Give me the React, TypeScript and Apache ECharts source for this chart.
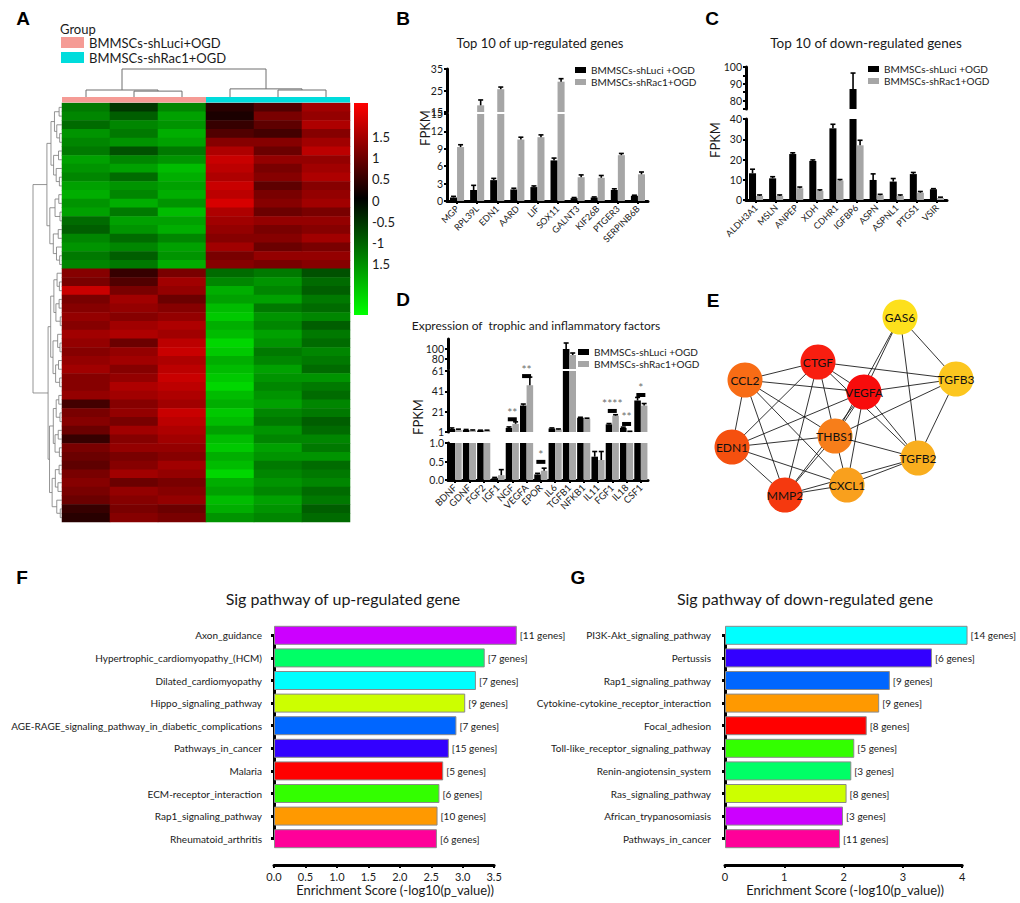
import React, { useEffect, useRef } from 'react';
import * as echarts from 'echarts';

const FONT = 'Lato, "Noto Sans", sans-serif';
const INK = '#1a1a1a';

// ---------------- Panel A: heatmap ----------------
const sampleNames = ['shLuci-1', 'shLuci-2', 'shLuci-3', 'shRac1-1', 'shRac1-2', 'shRac1-3'];
const sampleGroup = [0, 0, 0, 1, 1, 1];
const groupLabels = ['BMMSCs-shLuci+OGD', 'BMMSCs-shRac1+OGD'];
const groupColors = ['#f59b95', '#00dcdc'];

const zLuci1 = [-0.9, -1.0, -0.8, -1.1, -1.0, -0.9, -1.2, -1.1, -1.0, -1.2, -1.3, -1.1, -1.2, -0.8, -0.7, -1.0, -1.1, -0.9, -1.0,
  1.0, 0.9, 1.5, 0.9, 1.0, 1.1, 1.0, 1.2, 1.1, 1.0, 1.1, 1.2, 1.0, 1.0, 1.1, 0.5, 0.9, 1.0, 0.8, 0.4, 0.9, 0.8, 0.7, 0.9, 1.0, 0.9, 0.8, 0.4, 0.3];
const zLuci2 = [-0.4, -0.7, -1.0, -0.9, -1.1, -0.6, -1.0, -1.2, -0.8, -1.1, -1.0, -1.3, -0.9, -1.2, -1.1, -0.8, -1.0, -0.7, -0.9,
  0.4, 0.6, 0.9, 1.2, 1.1, 1.0, 1.2, 1.3, 0.8, 1.1, 1.2, 1.0, 1.1, 1.3, 1.2, 1.0, 1.1, 0.9, 1.2, 1.0, 1.1, 0.9, 1.0, 1.2, 0.8, 1.1, 1.0, 0.9, 1.0];
const zLuci3 = [-1.0, -1.2, -1.1, -1.3, -1.2, -0.9, -1.1, -1.4, -1.3, -1.2, -1.3, -1.1, -1.4, -1.2, -1.3, -1.0, -1.2, -1.1, -1.3,
  0.9, 1.2, 1.1, 0.8, 1.0, 1.1, 1.3, 1.2, 1.4, 1.5, 1.3, 1.4, 1.5, 1.4, 1.3, 1.2, 1.5, 1.4, 1.3, 1.2, 1.1, 1.0, 1.2, 1.1, 0.9, 1.0, 1.1, 0.8, 0.9];
const zRac1 = [0.3, 0.2, 0.4, 0.6, 1.0, 1.3, 1.5, 1.4, 1.3, 1.5, 1.4, 1.6, 1.3, 1.2, 1.1, 1.0, 1.2, 0.9, 1.0,
  -0.8, -1.0, -1.3, -1.2, -1.4, -1.5, -1.3, -1.4, -1.6, -1.5, -1.3, -1.4, -1.5, -1.6, -1.4, -1.3, -1.5, -1.4, -1.2, -1.4, -1.5, -1.3, -1.4, -1.6, -1.3, -1.2, -1.4, -1.3, -1.1];
const zRac2 = [0.6, 0.9, 0.7, 0.5, 1.0, 0.8, 1.1, 0.9, 1.0, 0.7, 0.9, 1.0, 0.8, 1.1, 0.9, 1.0, 0.8, 1.1, 0.9,
  -0.9, -1.1, -1.0, -1.2, -0.9, -1.1, -1.0, -1.2, -1.1, -0.9, -1.0, -1.2, -1.1, -1.0, -1.1, -1.2, -1.0, -0.9, -1.1, -1.0, -1.2, -1.1, -0.9, -1.0, -1.1, -1.0, -1.2, -1.1, -1.0];
const zRac3 = [1.2, 1.1, 1.3, 1.0, 1.2, 1.4, 1.1, 1.2, 1.3, 1.0, 1.1, 1.2, 0.9, 1.1, 1.0, 1.2, 0.9, 1.1, 1.0,
  -0.6, -0.8, -0.7, -0.9, -0.8, -1.0, -0.7, -0.9, -0.8, -1.0, -0.9, -0.8, -1.1, -0.9, -0.8, -1.0, -0.9, -0.7, -0.8, -1.0, -0.9, -1.1, -0.8, -0.9, -1.0, -0.8, -0.9, -0.7, -0.8];
const heatColumns = [zLuci1, zLuci2, zLuci3, zRac1, zRac2, zRac3];

// dendrogram merges: [lo, hi, split, height]
const colMerges = [[0, 6, 3, 10], [0, 3, 1, 2.5], [1, 3, 2, 2.1], [3, 6, 4, 2.9], [4, 6, 5, 2.5]];
const rowMerges = [
  [0, 48, 19, 10],
  [0, 19, 10, 5.2], [0, 10, 5, 3.8], [0, 5, 2, 2.6], [0, 2, 1, 1.0], [2, 5, 3, 1.8], [3, 5, 4, 0.8],
  [5, 10, 7, 2.9], [5, 7, 6, 1.2], [7, 10, 8, 2.0], [8, 10, 9, 0.9],
  [10, 19, 14, 4.2], [10, 14, 12, 2.4], [10, 12, 11, 1.1], [12, 14, 13, 0.7],
  [14, 19, 16, 3.0], [14, 16, 15, 1.3], [16, 19, 17, 1.9], [17, 19, 18, 0.8],
  [19, 48, 33, 4.8], [19, 33, 26, 3.9], [19, 26, 22, 2.8], [19, 22, 20, 1.7], [20, 22, 21, 0.9],
  [22, 26, 24, 2.1], [22, 24, 23, 1.0], [24, 26, 25, 0.6],
  [26, 33, 29, 3.1], [26, 29, 27, 1.5], [27, 29, 28, 0.7], [29, 33, 31, 2.2], [29, 31, 30, 1.2], [31, 33, 32, 0.8],
  [33, 48, 41, 4.3], [33, 41, 37, 3.0], [33, 37, 35, 2.0], [33, 35, 34, 1.1], [35, 37, 36, 0.7],
  [37, 41, 39, 2.4], [37, 39, 38, 1.3], [39, 41, 40, 0.9],
  [41, 48, 45, 3.4], [41, 45, 43, 2.3], [41, 43, 42, 1.0], [43, 45, 44, 1.4], [45, 48, 46, 1.8], [46, 48, 47, 0.6],
];
const colorbarTicks = [1.5, 1, 0.5, 0, -0.5, -1, -1.5];
const colorbarText = ['1.5', '1', '0.5', '0', '-0.5', '-1', '1.5'];

// ---------------- Panels B, C, D ----------------
const pairNames = ['BMMSCs-shLuci +OGD', 'BMMSCs-shRac1+OGD'];
const pairColors = ['#000000', '#a6a6a6'];

const upGenes = ['MGP', 'RPL39L', 'EDN1', 'AARD', 'LIF', 'SOX11', 'GALNT3', 'KIF26B', 'PTGER3', 'SERPINB6B'];
const upLuci = [0.6, 1.9, 3.6, 2.0, 2.4, 7.0, 0.5, 0.6, 1.9, 0.9];
const upRac1 = [9.3, 18.1, 25.6, 10.6, 11.0, 29.1, 4.1, 4.0, 7.9, 4.6];
const upLuciErr = [0.2, 0.8, 0.3, 0.2, 0.2, 0.4, 0.1, 0.1, 0.2, 0.1];
const upRac1Err = [0.4, 2.5, 1.0, 0.4, 0.4, 1.4, 0.4, 0.4, 0.3, 0.4];

const downGenes = ['ALDH3A1', 'MSLN', 'ANPEP', 'XDH', 'CDHR1', 'IGFBP6', 'ASPN', 'ASPNL1', 'PTGS1', 'VSIR'];
const downLuci = [13.2, 10.7, 22.7, 19.3, 35.4, 86.9, 9.9, 9.1, 12.8, 5.3];
const downRac1 = [2.0, 2.0, 5.8, 4.5, 9.6, 27.0, 2.3, 2.0, 3.6, 1.0];
const downLuciErr = [2.0, 0.8, 0.6, 0.5, 2.0, 9.5, 3.0, 1.5, 0.8, 0.3];
const downRac1Err = [0.5, 0.5, 0.6, 0.5, 0.5, 2.5, 0.5, 0.5, 0.6, 0.4];

const factorGenes = ['BDNF', 'GDNF', 'FGF2', 'IGF1', 'NGF', 'VEGFA', 'EPOR', 'IL6', 'TGFB1', 'NFKB1', 'IL11', 'FGF1', 'IL18', 'CSF1'];
const factorLuci = [4.0, 3.0, 2.5, 0.05, 5.0, 27, 0.15, 4.5, 100, 15, 0.63, 8.5, 5.0, 32];
const factorRac1 = [3.0, 2.5, 2.5, 0.13, 9.0, 47, 0.25, 3.5, 88, 14, 0.54, 17, 1.3, 27];
const factorLuciErr = [1.0, 0.5, 0.3, 0.02, 1.0, 1.5, 0.03, 0.5, 12, 0.5, 0.14, 0.8, 0.8, 3];
const factorRac1Err = [0.8, 0.5, 0.3, 0.15, 2.0, 8.0, 0.07, 0.5, 4, 0.6, 0.23, 1.0, 0.4, 2];
const factorSig = [
  { gene: 'NGF', y: 13.5, text: '**' },
  { gene: 'VEGFA', y: 56, text: '**' },
  { gene: 'EPOR', y: 0.49, text: '*' },
  { gene: 'FGF1', y: 21.7, text: '****' },
  { gene: 'IL18', y: 8.9, text: '**' },
  { gene: 'CSF1', y: 37.4, text: '*' },
];

// ---------------- Panel E: network ----------------
const netNodes = ['GAS6', 'CTGF', 'CCL2', 'VEGFA', 'TGFB3', 'THBS1', 'EDN1', 'TGFB2', 'CXCL1', 'MMP2'];
const netX = [168, 86, 13, 132, 224, 103, 0, 186, 115, 53];
const netY = [0, 45, 63, 75, 62, 119, 130, 141, 168, 178];
const netColors = ['#fde01c', '#f81e10', '#f86c15', '#f80c0c', '#fcc61f', '#f77e1a', '#f5500f', '#f9ae1e', '#f9a01d', '#f5390f'];
const netEdges = [
  ['GAS6', 'VEGFA'], ['GAS6', 'THBS1'], ['GAS6', 'TGFB3'], ['GAS6', 'TGFB2'],
  ['CTGF', 'CCL2'], ['CTGF', 'VEGFA'], ['CTGF', 'TGFB3'], ['CTGF', 'EDN1'], ['CTGF', 'MMP2'], ['CTGF', 'THBS1'], ['CTGF', 'TGFB2'],
  ['CCL2', 'VEGFA'], ['CCL2', 'EDN1'], ['CCL2', 'MMP2'], ['CCL2', 'THBS1'], ['CCL2', 'CXCL1'],
  ['VEGFA', 'TGFB3'], ['VEGFA', 'EDN1'], ['VEGFA', 'THBS1'], ['VEGFA', 'MMP2'], ['VEGFA', 'CXCL1'], ['VEGFA', 'TGFB2'],
  ['TGFB3', 'THBS1'], ['TGFB3', 'TGFB2'],
  ['THBS1', 'EDN1'], ['THBS1', 'TGFB2'], ['THBS1', 'CXCL1'], ['THBS1', 'MMP2'],
  ['EDN1', 'MMP2'], ['EDN1', 'CXCL1'], ['MMP2', 'CXCL1'], ['MMP2', 'TGFB2'], ['CXCL1', 'TGFB2'],
];

// ---------------- Panels F, G: pathways ----------------
const upPaths = ['Axon_guidance', 'Hypertrophic_cardiomyopathy_(HCM)', 'Dilated_cardiomyopathy', 'Hippo_signaling_pathway',
  'AGE-RAGE_signaling_pathway_in_diabetic_complications', 'Pathways_in_cancer', 'Malaria', 'ECM-receptor_interaction',
  'Rap1_signaling_pathway', 'Rheumatoid_arthritis'];
const upScores = [3.86, 3.35, 3.21, 3.04, 2.90, 2.78, 2.69, 2.63, 2.60, 2.59];
const upGeneCounts = [11, 7, 7, 9, 7, 15, 5, 6, 10, 6];
const upColors = ['#cc00ff', '#00ff66', '#00ffff', '#ccff00', '#0066ff', '#3300ff', '#ff0000', '#33ff00', '#ff9900', '#ff0099'];

const downPaths = ['PI3K-Akt_signaling_pathway', 'Pertussis', 'Rap1_signaling_pathway', 'Cytokine-cytokine_receptor_interaction',
  'Focal_adhesion', 'Toll-like_receptor_signaling_pathway', 'Renin-angiotensin_system', 'Ras_signaling_pathway',
  'African_trypanosomiasis', 'Pathways_in_cancer'];
const downScores = [4.09, 3.49, 2.78, 2.60, 2.39, 2.18, 2.13, 2.05, 1.99, 1.94];
const downGeneCounts = [14, 6, 9, 9, 8, 5, 3, 8, 3, 11];
const downColors = ['#00ffff', '#3300ff', '#0066ff', '#ff9900', '#ff0000', '#33ff00', '#00ff66', '#ccff00', '#cc00ff', '#ff0099'];

const GROUP_PREFIX = 'Group: ';

function dendroLinks(merges: number[][]) {
  const byRange = new Map<string, number[]>(merges.map((m) => [m[0] + ':' + m[1], m]));
  const place = (lo: number, hi: number): { c: number; h: number } => {
    if (hi - lo === 1) return { c: lo + 0.5, h: 0 };
    const m = byRange.get(lo + ':' + hi)!;
    const a = place(lo, m[2]);
    const b = place(m[2], hi);
    return { c: (a.c + b.c) / 2, h: m[3] };
  };
  return merges.map((m) => {
    const a = place(m[0], m[2]);
    const b = place(m[2], m[1]);
    return [a.c, a.h, b.c, b.h, m[3]];
  });
}

function buildOption() {
  const grids: any[] = [];
  const xAxis: any[] = [];
  const yAxis: any[] = [];
  const series: any[] = [];
  const graphic: any[] = [];
  const addGrid = (g: any, x: any, y: any) => {
    const i = grids.length;
    grids.push({ ...g, containLabel: false, show: false });
    xAxis.push({ ...x, gridIndex: i });
    yAxis.push({ ...y, gridIndex: i });
    return i;
  };
  const hidden = (min: number, max: number, inverse = false) => ({ type: 'value', min, max, inverse, show: false });
  const text = (t: string, x: number, y: number, size: number, extra: any = {}, rotation = 0) =>
    graphic.push({
      type: 'text', x, y, rotation, silent: true,
      style: {
        text: t, fontSize: size, fontFamily: FONT, fill: INK,
        align: 'center', verticalAlign: 'middle', textAlign: 'center', textVerticalAlign: 'middle', ...extra,
      },
    });

  // ---- panel letters ----
  const letter = (t: string, x: number, y: number) => text(t, x, y, 19, { fontWeight: 'bold', fill: '#000', fontFamily: '"Liberation Sans", Arial, sans-serif' });
  letter('A', 23, 18); letter('B', 403, 18); letter('C', 712, 18); letter('D', 403, 299);
  letter('E', 713, 300); letter('F', 22, 577); letter('G', 578, 577);

  // ---- Panel A ----
  text('Group', 60, 29, 13, { align: 'left', textAlign: 'left' });
  const rowIds = zLuci1.map((_, i) => 'gene' + (i + 1));
  const hm = addGrid({ left: 62, top: 103, width: 288, height: 419 },
    { type: 'category', data: sampleNames, show: false },
    { type: 'category', data: rowIds, inverse: true, show: false });
  const heatData: number[][] = [];
  heatColumns.forEach((col, c) => col.forEach((v, r) => heatData.push([c, r, v])));
  const heatIndex = series.length;
  series.push({ type: 'heatmap', xAxisIndex: hm, yAxisIndex: hm, data: heatData, silent: true, itemStyle: { borderWidth: 0 } });

  const cd = addGrid({ left: 62, top: 69, width: 288, height: 28 }, hidden(0, 6), hidden(0, 10));
  series.push({
    type: 'custom', xAxisIndex: cd, yAxisIndex: cd, data: dendroLinks(colMerges), silent: true,
    renderItem: (_p: any, api: any) => {
      const lc = api.value(0), lh = api.value(1), rc = api.value(2), rh = api.value(3), h = api.value(4);
      const pts = [api.coord([lc, lh]), api.coord([lc, h]), api.coord([rc, h]), api.coord([rc, rh])];
      return { type: 'polyline', shape: { points: pts }, style: { stroke: '#6e6e6e', lineWidth: 1, fill: null } };
    },
  });
  const rd = addGrid({ left: 33, top: 103, width: 29, height: 419 }, hidden(0, 10, true), hidden(0, zLuci1.length, true));
  series.push({
    type: 'custom', xAxisIndex: rd, yAxisIndex: rd, data: dendroLinks(rowMerges), silent: true,
    renderItem: (_p: any, api: any) => {
      const lc = api.value(0), lh = api.value(1), rc = api.value(2), rh = api.value(3), h = api.value(4);
      const pts = [api.coord([lh, lc]), api.coord([h, lc]), api.coord([h, rc]), api.coord([rh, rc])];
      return { type: 'polyline', shape: { points: pts }, style: { stroke: '#7a7a7a', lineWidth: 0.8, fill: null } };
    },
  });
  const gb = addGrid({ left: 62, top: 97, width: 288, height: 5.5 },
    { type: 'category', data: sampleNames, show: false }, hidden(0, 1));
  groupLabels.forEach((name, g) => series.push({
    type: 'bar', name: GROUP_PREFIX + name, stack: 'grp', xAxisIndex: gb, yAxisIndex: gb, barWidth: '100%', silent: true,
    data: sampleGroup.map((s) => (s === g ? 1 : 0)), itemStyle: { color: groupColors[g] },
  }));

  graphic.push({
    type: 'rect', silent: true, shape: { x: 354, y: 103, width: 14, height: 212 },
    style: {
      fill: new echarts.graphic.LinearGradient(0, 0, 0, 1, [
        { offset: 0, color: '#ff0000' }, { offset: 0.45, color: '#000000' }, { offset: 1, color: '#00ff00' },
      ]),
    },
  });
  addGrid({ left: 368, top: 137, width: 1, height: 127 }, hidden(0, 1), {
    type: 'value', position: 'right', min: -1.5, max: 1.5, interval: 0.5,
    axisLine: { show: false }, axisTick: { show: false }, splitLine: { show: false },
    axisLabel: { fontSize: 13, fontFamily: FONT, color: INK, margin: 3, formatter: (v: number) => colorbarText[colorbarTicks.indexOf(v)] ?? '' },
  });

  // ---- bar panels B, C, D ----
  const segIndexOf = (segs: any[], v: number) => {
    for (let k = 0; k < segs.length; k++) if (v <= segs[k].max) return k;
    return segs.length - 1;
  };
  const addBarPanel = (cats: string[], vals: number[][], errs: number[][], left: number, width: number, gap: number,
    segs: any[], xFont: number, sig?: any[]) => {
    segs.forEach((s: any, k: number) => {
      const gi = addGrid({ left, width, top: s.top, height: s.height },
        {
          type: 'category', data: cats, show: k === 0,
          axisLine: { show: true, lineStyle: { color: '#000', width: 3 } },
          axisTick: { show: true, alignWithLabel: true, length: 3, lineStyle: { color: '#000', width: 2 } },
          axisLabel: { show: true, interval: 0, rotate: 45, fontSize: xFont, fontFamily: FONT, color: INK, margin: 6 },
        },
        {
          type: 'value', min: s.min, max: s.max, interval: s.interval, splitLine: { show: false },
          axisLine: { show: true, lineStyle: { color: '#000', width: 3 } },
          axisTick: { show: true, length: 3, lineStyle: { color: '#000', width: 2 } },
          axisLabel: { fontSize: 10.5, fontFamily: FONT, color: INK, margin: 4, showMinLabel: !s.hideMin, formatter: s.fmt || '{value}' },
        });
      vals.forEach((arr, si) => series.push({
        type: 'bar', name: pairNames[si], xAxisIndex: gi, yAxisIndex: gi, data: arr, barGap: '0%',
        barCategoryGap: gap * 100 + '%', itemStyle: { color: pairColors[si] }, silent: true, clip: true, z: 2,
      }));
      vals.forEach((arr, si) => {
        const data = arr.map((v, i) => [i, v, errs[si][i]]).filter((d) => segIndexOf(segs, d[1]) === k);
        series.push({
          type: 'custom', xAxisIndex: gi, yAxisIndex: gi, data, silent: true, z: 3,
          renderItem: (_p: any, api: any) => {
            const i = api.value(0), v = api.value(1), e = api.value(2);
            const band = api.size([1, 0])[0];
            const w = (band * (1 - gap)) / 2;
            const b = api.coord([i, v]);
            const t = api.coord([i, v + e]);
            const x = b[0] + (si === 0 ? -w / 2 : w / 2);
            return {
              type: 'group', children: [
                { type: 'line', shape: { x1: x, y1: b[1], x2: x, y2: t[1] }, style: { stroke: '#000', lineWidth: 1.6 } },
                { type: 'line', shape: { x1: x - 2.5, y1: t[1], x2: x + 2.5, y2: t[1] }, style: { stroke: '#000', lineWidth: 1.6 } },
              ],
            };
          },
        });
      });
      if (sig) {
        const sd = sig.filter((m) => segIndexOf(segs, m.y) === k);
        if (sd.length) series.push({
          type: 'custom', xAxisIndex: gi, yAxisIndex: gi, silent: true, z: 4,
          data: sd.map((m) => [cats.indexOf(m.gene), m.y]),
          renderItem: (p: any, api: any) => {
            const c = api.coord([api.value(0), api.value(1)]);
            return {
              type: 'group', children: [
                { type: 'rect', shape: { x: c[0] - 4.5, y: c[1] - 2, width: 9, height: 4 }, style: { fill: '#000' } },
                {
                  type: 'text', x: c[0], y: c[1] - 7,
                  style: { text: sd[p.dataIndex].text, fontSize: 12, fontFamily: FONT, fill: '#6e6e6e', align: 'center', verticalAlign: 'middle', textAlign: 'center', textVerticalAlign: 'middle' },
                },
              ],
            };
          },
        });
      }
    });
  };

  text('Top 10 of up-regulated genes', 540, 43, 13);
  text('FPKM', 425, 128, 13, {}, Math.PI / 2);
  addBarPanel(upGenes, [upLuci, upRac1], [upLuciErr, upRac1Err], 447, 201, 0.3, [
    { top: 114, height: 87, min: 0, max: 15, interval: 3 },
    { top: 69, height: 43, min: 15, max: 35, interval: 10 },
  ], 9);

  text('Top 10 of down-regulated genes', 866, 43, 13.5);
  text('FPKM', 715, 140, 13, {}, Math.PI / 2);
  addBarPanel(downGenes, [downLuci, downRac1], [downLuciErr, downRac1Err], 746, 201, 0.3, [
    { top: 119, height: 81, min: 0, max: 40, interval: 10 },
    { top: 67, height: 42, min: 75, max: 100, interval: 5, fmt: (v: number) => (v % 10 === 0 ? String(v) : '') },
  ], 9);

  text('Expression of  trophic and inflammatory factors', 536, 325, 12);
  text('FPKM', 418, 417, 13, {}, Math.PI / 2);
  addBarPanel(factorGenes, [factorLuci, factorRac1], [factorLuciErr, factorRac1Err], 448, 200, 0.08, [
    { top: 443, height: 37, min: 0, max: 1, interval: 0.5, fmt: (v: number) => v.toFixed(1) },
    { top: 371, height: 61, min: 1, max: 61, interval: 20 },
    { top: 339, height: 30, min: 60, max: 120, interval: 20, hideMin: true },
  ], 9.5, factorSig);

  // ---- Panel E ----
  const ei = addGrid({ left: 732, top: 317, width: 224, height: 178 }, hidden(0, 224), hidden(0, 178, true));
  series.push({
    type: 'graph', coordinateSystem: 'cartesian2d', xAxisIndex: ei, yAxisIndex: ei, silent: true, z: 3,
    symbolSize: 35,
    data: netNodes.map((name, i) => ({ name, value: [netX[i], netY[i]], itemStyle: { color: netColors[i] } })),
    links: netEdges.map(([source, target]) => ({ source, target })),
    lineStyle: { color: '#111', width: 1, opacity: 0.85 },
    label: { show: true, position: 'inside', fontSize: 12, fontFamily: FONT, color: '#111' },
  });

  // ---- Panels F, G ----
  const addPathPanel = (paths: string[], scores: number[], genes: number[], colors: string[], left: number,
    unit: number, axisMax: number, axisStep: number, barMax: number, lineOffset: number, fmt: (v: number) => string) => {
    const top = 624, band = 22.6, h = band * paths.length;
    const bi = addGrid({ left, top, width: unit * barMax, height: h }, hidden(0, barMax),
      { type: 'category', data: paths, inverse: true, show: false });
    series.push({
      type: 'bar', xAxisIndex: bi, yAxisIndex: bi, barWidth: 19, silent: true,
      data: scores.map((v, i) => ({ value: v, itemStyle: { color: colors[i] } })),
      itemStyle: { borderColor: '#8a8a8a', borderWidth: 1 },
      label: { show: true, position: 'right', distance: 3, fontSize: 10, fontFamily: FONT, color: INK, formatter: (p: any) => `[${genes[p.dataIndex]} genes]` },
    });
    addGrid({ left, top: top + band / 2, width: 10, height: h - band }, hidden(0, 1), {
      type: 'category', data: paths, inverse: true, boundaryGap: false, offset: lineOffset,
      axisLine: { show: true, lineStyle: { color: '#000', width: 3 } },
      axisTick: { show: true, length: 3, lineStyle: { color: '#000', width: 3 } },
      axisLabel: { interval: 0, fontSize: 10, fontFamily: FONT, color: INK, margin: 8 },
    });
    addGrid({ left, top: 860, width: unit * axisMax, height: 5 }, {
      type: 'value', min: 0, max: axisMax, interval: axisStep, position: 'bottom', splitLine: { show: false },
      axisLine: { show: true, lineStyle: { color: '#000', width: 3 } },
      axisTick: { show: true, length: 3, lineStyle: { color: '#000', width: 2 } },
      axisLabel: { fontSize: 11, fontFamily: FONT, color: INK, margin: 6, formatter: fmt },
    }, hidden(0, 1));
  };
  text('Sig pathway of up-regulated gene', 343, 598, 16);
  addPathPanel(upPaths, upScores, upGeneCounts, upColors, 274, 62.9, 3.5, 0.5, 4, 4, (v) => v.toFixed(1));
  text('Enrichment Score (-log10(p_value))', 395, 890, 13);
  text('Sig pathway of down-regulated gene', 805, 598, 16);
  addPathPanel(downPaths, downScores, downGeneCounts, downColors, 725, 59.3, 4, 1, 4.5, 6, (v) => String(v));
  text('Enrichment Score (-log10(p_value))', 845, 890, 13);

  const smallLegend = (left: number, top: number) => ({
    data: pairNames.map((name, i) => ({ name, itemStyle: { color: pairColors[i] } })),
    orient: 'vertical', left, top, padding: 0, itemWidth: 11, itemHeight: 6, itemGap: 0,
    icon: 'rect', selectedMode: false, textStyle: { fontSize: 10, fontFamily: FONT, color: INK, lineHeight: 12 },
  });

  return {
    animation: false,
    backgroundColor: '#ffffff',
    textStyle: { fontFamily: FONT },
    grid: grids,
    xAxis,
    yAxis,
    series,
    graphic,
    visualMap: [{
      type: 'continuous', show: false, min: -1.9, max: 1.9, seriesIndex: heatIndex, dimension: 2,
      inRange: { color: ['#00ff00', '#000000', '#ff0000'] },
    }],
    legend: [
      {
        data: groupLabels.map((n) => GROUP_PREFIX + n), orient: 'vertical', left: 61, top: 36, padding: 0,
        itemWidth: 23, itemHeight: 11, itemGap: 2, icon: 'rect', selectedMode: false,
        formatter: (n: string) => n.replace(GROUP_PREFIX, ''),
        textStyle: { fontSize: 13, fontFamily: FONT, color: INK },
      },
      smallLegend(575, 64),
      smallLegend(868, 63),
      smallLegend(578, 346),
    ],
  };
}

export default function App() {
  const ref = useRef<HTMLDivElement>(null);
  useEffect(() => {
    const chart = echarts.init(ref.current!, undefined, { renderer: 'svg' });
    chart.setOption(buildOption() as any);
    return () => chart.dispose();
  }, []);
  return <div ref={ref} style={{ position: 'absolute', left: 0, top: 0, width: 1020, height: 903, background: '#fff' }} />;
}
